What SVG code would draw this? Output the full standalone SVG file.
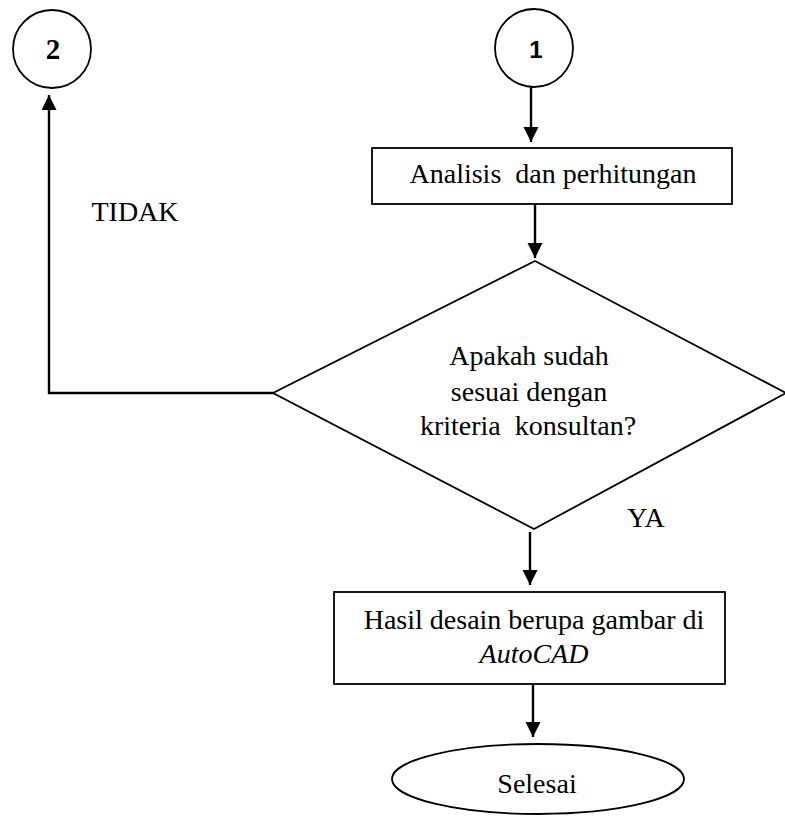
<svg xmlns="http://www.w3.org/2000/svg" width="785" height="816" viewBox="0 0 785 816">
<style>
.n{fill:#fff;stroke:#000;stroke-width:1.8}
.t{font-family:"Liberation Serif","Times New Roman",serif;font-size:28px;fill:#000;text-anchor:middle;white-space:pre}
.c{stroke:#000;stroke-width:2.4;fill:none}
</style>
<defs>
<marker id="ah" markerWidth="16" markerHeight="16" refX="15" refY="7.5" orient="auto" markerUnits="userSpaceOnUse">
<path d="M0,0 L15,7.5 L0,15 Z" fill="#000"/>
</marker>
</defs>
<g id="connectors">
<line class="c" x1="531" y1="87" x2="531" y2="142" marker-end="url(#ah)"/>
<line class="c" x1="535" y1="204" x2="535" y2="258" marker-end="url(#ah)"/>
<polyline class="c" points="273,393 49,393 49,95" marker-end="url(#ah)"/>
<line class="c" x1="530" y1="532" x2="530" y2="585" marker-end="url(#ah)"/>
<line class="c" x1="533" y1="685" x2="533" y2="737" marker-end="url(#ah)"/>
</g>
<g id="n2">
<circle class="n" cx="52" cy="49" r="39"/>
<text x="53" y="59" font-family="Liberation Serif,serif" font-weight="bold" font-size="29" text-anchor="middle">2</text>
</g>
<g id="n1">
<circle class="n" cx="534" cy="48" r="39"/>
<text x="536" y="58" font-family="Liberation Sans,sans-serif" font-weight="bold" font-size="24" text-anchor="middle">1</text>
</g>
<g id="analisis">
<rect class="n" x="372" y="148" width="360" height="56"/>
<text class="t" x="553" y="183" xml:space="preserve">Analisis  dan perhitungan</text>
</g>
<g id="decision">
<polygon class="n" points="535,261 786,393 534,529 273,393"/>
<text class="t" x="529" y="365">Apakah sudah</text>
<text class="t" x="529" y="401">sesuai dengan</text>
<text class="t" x="528" y="435" xml:space="preserve">kriteria  konsultan?</text>
</g>
<text class="t" x="135" y="221" font-size="29">TIDAK</text>
<text class="t" x="646" y="527" font-size="29">YA</text>
<g id="hasil">
<rect class="n" x="334" y="592" width="391" height="92"/>
<text class="t" x="534" y="629" font-size="29">Hasil desain berupa gambar di</text>
<text class="t" x="534" y="663" font-size="29" font-style="italic">AutoCAD</text>
</g>
<g id="selesai">
<ellipse class="n" cx="538" cy="779" rx="146" ry="35"/>
<text class="t" x="537" y="793" font-size="29">Selesai</text>
</g>
</svg>
